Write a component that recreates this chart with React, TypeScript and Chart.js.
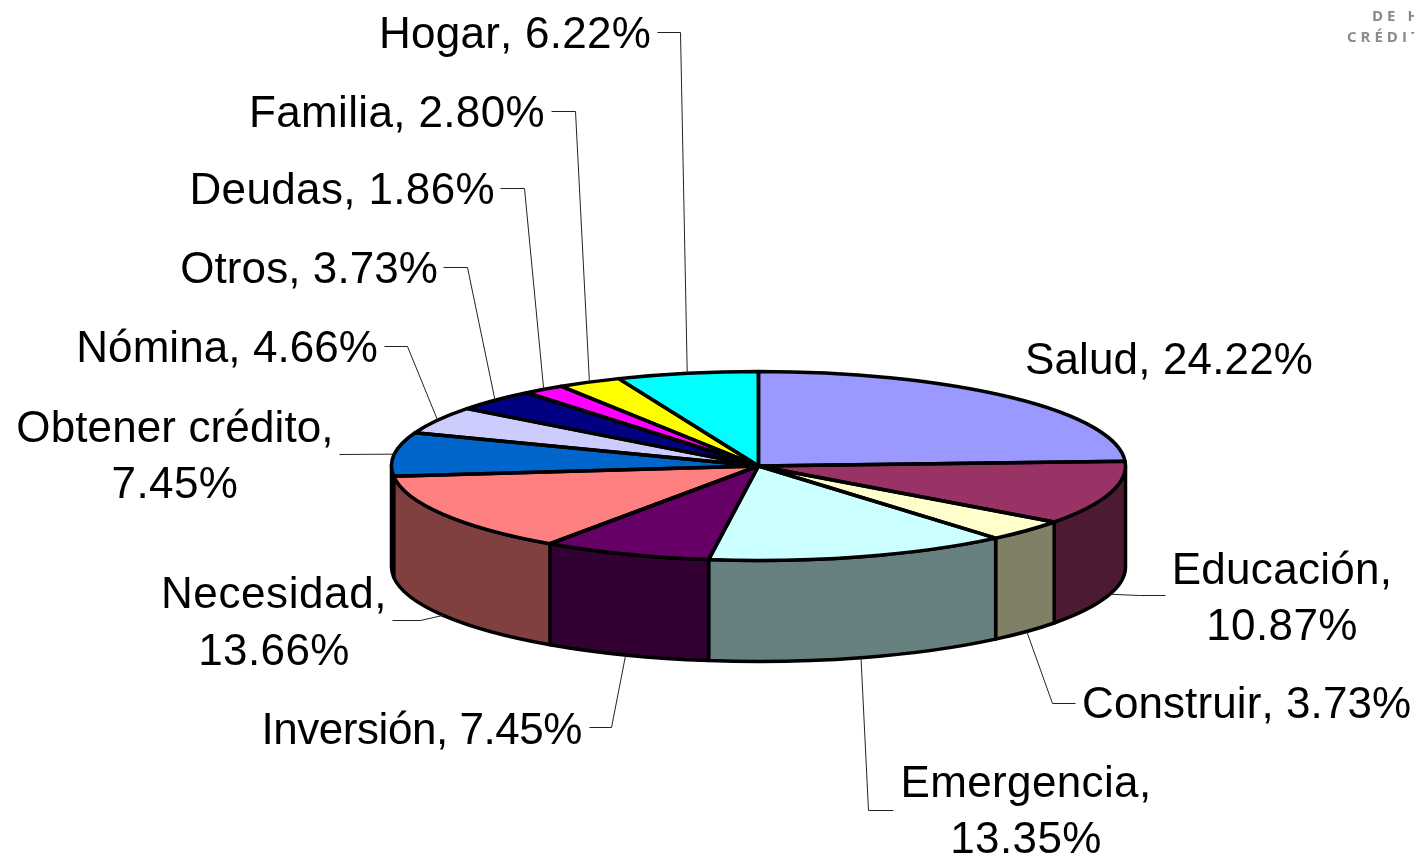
import React, { useEffect, useRef } from "react";
import { Chart, registerables } from "chart.js";

Chart.register(...registerables);

const categories = ["Salud", "Educación", "Construir", "Emergencia", "Inversión", "Necesidad", "Obtener crédito", "Nómina", "Otros", "Deudas", "Familia", "Hogar"];
const shares = [24.22, 10.87, 3.73, 13.35, 7.45, 13.66, 7.45, 4.66, 3.73, 1.86, 2.8, 6.22];
const topColors = ["#9999FF", "#993366", "#FFFFCC", "#CCFFFF", "#660066", "#FF8080", "#0066CC", "#CCCCFF", "#000080", "#FF00FF", "#FFFF00", "#00FFFF"];
const sideColors = ["#4D4D80", "#4D1A33", "#808066", "#668080", "#330033", "#804040", "#003366", "#666680", "#000040", "#800080", "#808000", "#008080"];

const CX = 758.5, CY = 466, RX = 367, RY = 94.5, DEPTH = 101;
const FONT = '44px "Liberation Sans"';

const pct = (i: number) => shares[i].toFixed(2) + "%";

// label placement per category index: x, baselines, tracking, leader elbow points
const layout: { align: CanvasTextAlign; x: number; ys: number[]; split: boolean; track: number; via: [number, number][] | null; front: boolean }[] = [
  { align: "left", x: 1025, ys: [374], split: false, track: 0.14, via: null, front: false },
  { align: "center", x: 1282, ys: [584, 640], split: true, track: 0.3, via: [[1165, 595], [1139, 595]], front: true },
  { align: "left", x: 1082, ys: [718], split: false, track: 0.1, via: [[1075, 703], [1052, 703]], front: true },
  { align: "center", x: 1026, ys: [797, 853], split: true, track: 0.36, via: [[893, 810], [868, 810]], front: true },
  { align: "right", x: 582, ys: [744], split: false, track: -0.45, via: [[589, 727], [611, 727]], front: true },
  { align: "center", x: 274, ys: [608, 665], split: true, track: 0.6, via: [[392, 620], [420, 620]], front: true },
  { align: "center", x: 175, ys: [442, 498], split: true, track: 0.12, via: [[339, 454]], front: false },
  { align: "right", x: 378, ys: [362], split: false, track: 0.07, via: [[384, 346], [407, 346]], front: false },
  { align: "right", x: 438, ys: [283], split: false, track: 0.08, via: [[443, 267], [467, 267]], front: false },
  { align: "right", x: 495, ys: [204], split: false, track: 0.36, via: [[500, 188], [524, 188]], front: false },
  { align: "right", x: 545, ys: [127], split: false, track: 0.36, via: [[551, 111], [575, 111]], front: false },
  { align: "right", x: 651, ys: [48], split: false, track: 0.25, via: [[657, 32], [680, 32]], front: false },
];

const pie3d = {
  id: "pie3d",
  beforeDatasetsDraw(chart: any) {
    const ctx: CanvasRenderingContext2D = chart.ctx;
    const arcs = chart.getDatasetMeta(0).data;
    const { x: cx, y: cy, outerRadius: rx } = arcs[0];
    const ry = rx * (RY / RX);
    ctx.save();
    ctx.lineJoin = "round";
    ctx.strokeStyle = "#000";
    ctx.lineWidth = 3.5;
    arcs.forEach((arc: any, i: number) => {
      const a0 = Math.max(arc.startAngle, 0);
      const a1 = Math.min(arc.endAngle, Math.PI);
      if (a1 <= a0) return;
      ctx.beginPath();
      ctx.ellipse(cx, cy, rx, ry, 0, a0, a1);
      ctx.ellipse(cx, cy + DEPTH, rx, ry, 0, a1, a0, true);
      ctx.closePath();
      ctx.fillStyle = sideColors[i];
      ctx.fill();
      ctx.stroke();
    });
    ctx.restore();
    // squash the library's circular arcs into the tilted top face
    ctx.save();
    ctx.translate(cx, cy);
    ctx.scale(1, ry / rx);
    ctx.translate(-cx, -cy);
  },
  afterDatasetsDraw(chart: any) {
    const ctx: CanvasRenderingContext2D = chart.ctx;
    ctx.restore();
    const arcs = chart.getDatasetMeta(0).data;
    const { x: cx, y: cy, outerRadius: rx } = arcs[0];
    const ry = rx * (RY / RX);
    ctx.save();
    ctx.lineJoin = "round";
    ctx.strokeStyle = "#000";
    ctx.lineWidth = 3.5;
    arcs.forEach((arc: any) => {
      ctx.beginPath();
      ctx.moveTo(cx, cy);
      ctx.ellipse(cx, cy, rx, ry, 0, arc.startAngle, arc.endAngle);
      ctx.closePath();
      ctx.stroke();
    });
    // leaders
    ctx.lineWidth = 1;
    ctx.strokeStyle = "#222";
    arcs.forEach((arc: any, i: number) => {
      const l = layout[i];
      if (!l.via) return;
      const mid = (arc.startAngle + arc.endAngle) / 2;
      const ax = cx + rx * Math.cos(mid);
      const ay = cy + ry * Math.sin(mid) + (l.front ? DEPTH : 0);
      ctx.beginPath();
      l.via.forEach(([x, y], k) => (k ? ctx.lineTo(x + 0.5, y + 0.5) : ctx.moveTo(x + 0.5, y + 0.5)));
      ctx.lineTo(ax, ay);
      ctx.stroke();
    });
    // labels
    ctx.fillStyle = "#000";
    ctx.font = FONT;
    ctx.textBaseline = "alphabetic";
    (ctx as any).fontKerning = "none";
    categories.forEach((name, i) => {
      const l = layout[i];
      ctx.textAlign = l.align;
      (ctx as any).letterSpacing = `${l.track}px`;
      if (l.split) {
        ctx.fillText(name + ",", l.x, l.ys[0]);
        (ctx as any).letterSpacing = "0.4px";
        ctx.fillText(pct(i), l.x, l.ys[1]);
      } else {
        ctx.fillText(`${name}, ${pct(i)}`, l.x, l.ys[0]);
      }
    });
    // cropped logo in the corner
    ctx.fillStyle = "#8a8a8a";
    ctx.font = 'bold 15px "Open Sans"';
    (ctx as any).letterSpacing = "4px";
    ctx.textAlign = "left";
    ctx.fillText("DE H", 1372, 21);
    ctx.fillText("CRÉDIT", 1347, 42);
    ctx.restore();
  },
};

export default function App() {
  const ref = useRef<HTMLCanvasElement>(null);
  useEffect(() => {
    const chart = new Chart(ref.current!, {
      type: "pie",
      data: {
        labels: categories,
        datasets: [{ data: shares, backgroundColor: topColors, borderWidth: 0 }],
      },
      options: {
        animation: false,
        responsive: false,
        events: [],
        layout: { padding: { left: CX - RX, right: 1414 - CX - RX, top: CY - RX, bottom: 856 - CY - RX } },
        plugins: { legend: { display: false }, tooltip: { enabled: false } },
      },
      plugins: [pie3d],
    } as any);
    return () => chart.destroy();
  }, []);
  return <canvas ref={ref} width={1414} height={856} style={{ position: "absolute", left: 0, top: 0, display: "block" }} />;
}
